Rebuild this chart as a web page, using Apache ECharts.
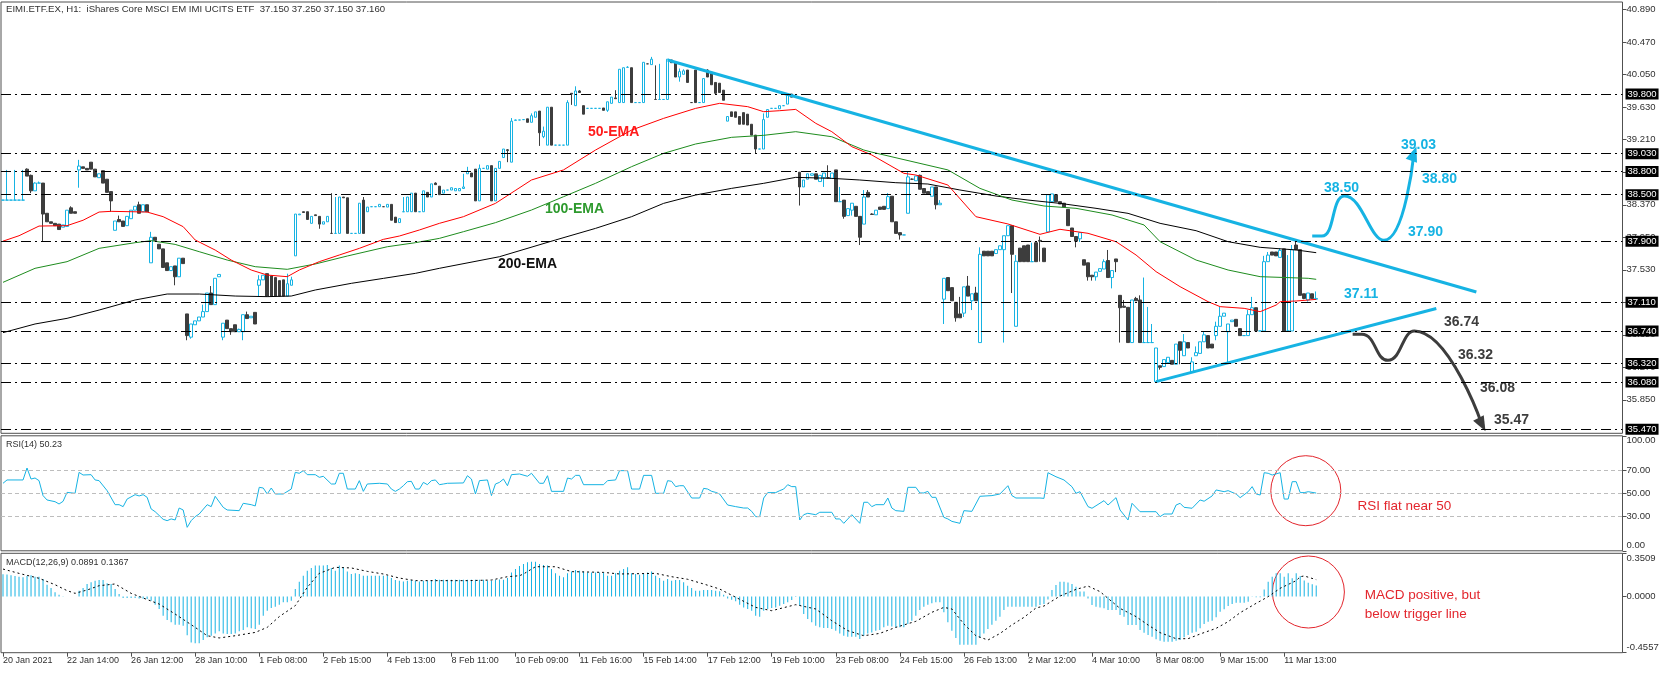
<!DOCTYPE html>
<html><head><meta charset="utf-8">
<script src="https://cdn.jsdelivr.net/npm/echarts@6/dist/echarts.min.js"></script>
<style>html,body{margin:0;padding:0;background:#fff}#c{width:1670px;height:674px}</style>
</head><body><div id="c"></div>
<script>
// ---------------- DATA ----------------
const timeLabels = ['20 Jan 2021','22 Jan 14:00','26 Jan 12:00','28 Jan 10:00','1 Feb 08:00','2 Feb 15:00','4 Feb 13:00','8 Feb 11:00','10 Feb 09:00','11 Feb 16:00','15 Feb 14:00','17 Feb 12:00','19 Feb 10:00','23 Feb 08:00','24 Feb 15:00','26 Feb 13:00','2 Mar 12:00','4 Mar 10:00','8 Mar 08:00','9 Mar 15:00','11 Mar 13:00'];
const barsPerLabel = 16;
const slotCount = 405;

// [open, close, low, high] per H1 bar
const ohlc = [
[38.43,38.43,38.43,38.43],[38.43,38.43,38.43,38.82],[38.43,38.43,38.43,38.43],[38.43,38.43,38.43,38.82],[38.43,38.43,38.43,38.43],
[38.43,38.43,38.43,38.82],[38.83,38.74,38.74,38.84],[38.75,38.55,38.52,38.76],[38.55,38.65,38.55,38.66],[38.65,38.65,38.65,38.67],
[38.65,38.25,37.89,38.65],[38.26,38.15,38.15,38.26],[38.15,38.13,38.13,38.15],[38.13,38.10,38.10,38.13],[38.12,38.05,38.05,38.12],
[38.08,38.11,38.08,38.11],[38.09,38.30,38.09,38.30],[38.33,38.26,38.26,38.35],[38.28,38.26,38.26,38.28],[38.82,38.87,38.59,38.95],
[38.86,38.84,38.84,38.86],[38.84,38.82,38.82,38.84],[38.92,38.83,38.83,38.92],[38.83,38.73,38.73,38.83],[38.72,38.77,38.72,38.77],
[38.81,38.65,38.65,38.81],[38.70,38.53,38.53,38.70],[38.54,38.42,38.28,38.54],[38.04,38.16,38.04,38.16],[38.18,38.15,38.15,38.23],
[38.16,38.09,38.09,38.16],[38.10,38.22,38.10,38.22],[38.19,38.30,38.19,38.30],[38.30,38.35,38.30,38.35],[38.37,38.26,38.26,38.41],
[38.28,38.37,38.28,38.37],[38.37,38.28,38.28,38.37],[37.62,37.95,37.62,38.02],[37.95,37.91,37.91,37.95],[37.86,37.80,37.80,37.86],
[37.80,37.56,37.56,37.80],[37.62,37.52,37.52,37.62],[37.52,37.57,37.52,37.57],[37.58,37.44,37.33,37.58],[37.44,37.68,37.44,37.68],
[37.68,37.61,37.61,37.68],[36.96,36.68,36.62,36.96],[36.66,36.83,36.64,36.83],[36.82,36.87,36.82,36.87],[36.87,36.92,36.87,36.92],
[36.92,36.99,36.92,37.08],[36.99,37.23,36.99,37.23],[37.23,37.08,37.08,37.32],[37.08,37.42,37.08,37.42],[37.44,37.47,37.44,37.47],
[36.66,36.84,36.62,36.84],[36.88,36.77,36.77,36.88],[36.77,36.73,36.69,36.77],[36.82,36.73,36.73,36.82],[36.73,36.76,36.73,36.77],
[36.73,36.95,36.62,36.95],[36.95,36.90,36.90,36.99],[36.91,36.93,36.91,36.93],[36.98,36.83,36.83,36.98],[37.33,37.40,37.18,37.46],
[37.40,37.46,37.40,37.46],[37.48,37.19,37.19,37.48],[37.45,37.19,37.19,37.45],[37.43,37.19,37.19,37.43],[37.39,37.19,37.19,37.39],
[37.40,37.19,37.19,37.40],[37.19,37.35,37.19,37.48],[37.33,37.40,37.33,37.44],[37.71,38.25,37.71,38.25],[38.24,38.25,38.24,38.25],
[38.28,38.27,38.27,38.28],[38.28,38.18,38.18,38.28],[38.13,38.22,38.13,38.22],[38.24,38.23,38.23,38.24],[38.22,38.12,38.06,38.22],
[38.12,38.15,38.12,38.15],[38.15,38.22,38.15,38.22],[38.00,38.00,38.00,38.52],[38.00,38.00,38.00,38.47],[38.00,38.47,38.00,38.47],
[38.47,38.46,38.46,38.47],[38.46,38.00,38.00,38.46],[38.00,38.00,38.00,38.00],[38.00,38.00,38.00,38.00],[38.00,38.39,38.00,38.39],
[38.43,38.00,38.00,38.47],[38.28,38.34,38.28,38.34],[38.345,38.345,38.345,38.345],[38.345,38.345,38.345,38.345],[38.345,38.375,38.345,38.375],
[38.345,38.345,38.345,38.345],[38.34,38.375,38.34,38.375],[38.375,38.17,38.17,38.375],[38.21,38.14,38.14,38.21],[38.14,38.19,38.14,38.19],
[38.28,38.28,38.28,38.47],[38.28,38.47,38.28,38.47],[38.28,38.52,38.28,38.52],[38.52,38.28,38.28,38.52],[38.28,38.28,38.28,38.28],
[38.28,38.55,38.28,38.55],[38.53,38.47,38.47,38.53],[38.47,38.64,38.47,38.64],[38.65,38.63,38.63,38.66],[38.61,38.50,38.50,38.61],
[38.52,38.56,38.52,38.56],[38.56,38.56,38.56,38.56],[38.56,38.59,38.56,38.59],[38.55,38.58,38.55,38.58],[38.55,38.58,38.55,38.58],
[38.58,38.60,38.58,38.77],[38.77,38.80,38.77,38.86],[38.78,38.73,38.73,38.78],[38.83,38.42,38.42,38.83],[38.42,38.84,38.42,38.89],
[38.84,38.84,38.84,38.84],[38.83,38.875,38.83,38.875],[38.875,38.42,38.42,38.875],[38.42,38.84,38.42,38.84],[38.84,38.93,38.84,38.93],
[38.98,39.09,38.98,39.09],[39.08,39.07,38.92,39.09],[38.92,39.45,38.92,39.49],[39.46,39.465,39.46,39.47],[39.465,39.465,39.465,39.465],
[39.47,39.47,39.47,39.47],[39.48,39.435,39.435,39.48],[39.435,39.52,39.435,39.55],[39.50,39.57,39.50,39.57],[39.58,39.30,39.13,39.58],
[39.25,39.32,39.23,39.38],[39.14,39.63,39.14,39.63],[39.63,39.14,39.14,39.63],[39.14,39.14,39.14,39.14],[39.14,39.14,39.14,39.14],
[39.14,39.14,39.14,39.14],[39.14,39.69,39.14,39.72],[39.81,39.80,39.66,39.81],[39.65,39.84,39.65,39.90],[39.84,39.82,39.82,39.85],
[39.65,39.54,39.54,39.65],[39.615,39.615,39.615,39.615],[39.615,39.615,39.615,39.615],[39.615,39.615,39.615,39.615],[39.615,39.615,39.615,39.615],
[39.62,39.59,39.59,39.62],[39.59,39.70,39.57,39.70],[39.68,39.76,39.68,39.76],[39.75,39.74,39.74,39.85],[39.69,40.12,39.69,40.12],
[39.69,40.14,39.69,40.14],[40.145,40.145,40.145,40.16],[40.14,39.69,39.69,40.14],[39.69,39.69,39.69,39.69],[39.69,39.69,39.69,39.69],
[39.69,40.21,39.69,40.21],[40.19,40.19,40.19,40.19],[40.18,40.25,40.18,40.28],[39.73,39.73,39.73,40.17],[39.73,39.73,39.73,40.19],
[39.73,39.73,39.73,39.73],[39.73,40.25,39.73,40.25],[40.24,40.205,40.205,40.24],[40.22,40.02,40.02,40.22],[40.02,40.09,39.96,40.13],
[40.055,40.10,40.055,40.12],[40.11,39.95,39.95,40.11],[39.69,39.69,39.69,39.69],[40.11,39.69,39.69,40.11],[39.69,39.69,39.69,39.69],
[39.69,40.00,39.69,40.00],[40.11,40.02,40.02,40.12],[40.08,39.92,39.92,40.08],[39.95,39.81,39.80,39.95],[39.94,39.82,39.82,39.94],
[39.85,39.72,39.72,39.85],[39.45,39.51,39.45,39.51],[39.57,39.51,39.51,39.57],[39.57,39.50,39.50,39.57],[39.51,39.41,39.41,39.51],
[39.56,39.41,39.41,39.56],[39.54,39.40,39.40,39.54],[39.41,39.27,39.27,39.41],[39.27,39.09,39.03,39.27],[39.09,39.09,39.09,39.09],
[39.09,39.47,39.09,39.55],[39.50,39.60,39.50,39.60],[39.615,39.615,39.615,39.615],[39.615,39.615,39.615,39.615],[39.61,39.65,39.61,39.65],
[39.65,39.65,39.65,39.65],[39.67,39.80,39.67,39.80],[39.80,39.76,39.76,39.80],[39.76,39.76,39.76,39.76],[38.79,38.60,38.36,38.79],
[38.60,38.69,38.60,38.69],[38.70,38.77,38.70,38.77],[38.75,38.77,38.75,38.77],[38.77,38.70,38.70,38.77],[38.67,38.75,38.67,38.75],
[38.72,38.78,38.60,38.78],[38.72,38.72,38.71,38.88],[38.71,38.78,38.71,38.78],[38.82,38.41,38.41,38.82],[38.41,38.41,38.41,38.60],
[38.43,38.22,38.19,38.43],[38.23,38.32,38.23,38.32],[38.30,38.39,38.23,38.39],[38.35,38.22,38.22,38.35],[38.22,37.95,37.85,38.22],
[38.12,38.47,38.12,38.56],[38.53,38.47,38.47,38.56],[38.25,38.245,38.24,38.26],[38.24,38.30,38.24,38.30],[38.34,38.31,38.31,38.34],
[38.35,38.31,38.31,38.35],[38.32,38.475,38.32,38.52],[38.48,38.15,38.15,38.48],[38.15,38.00,38.00,38.15],[38.01,37.98,37.92,38.01],
[37.98,37.98,37.98,37.98],[38.26,38.73,38.26,38.80],[38.70,38.70,38.69,38.71],[38.68,38.74,38.68,38.74],[38.75,38.57,38.57,38.76],
[38.58,38.52,38.52,38.58],[38.54,38.51,38.51,38.54],[38.48,38.60,38.48,38.60],[38.60,38.37,38.31,38.60],[38.37,38.39,38.37,38.43],
[37.15,37.42,36.83,37.42],[37.43,37.26,37.26,37.43],[37.30,37.13,37.13,37.30],[37.11,36.91,36.86,37.11],[36.96,36.91,36.91,37.18],
[36.97,37.31,36.92,37.31],[37.32,37.19,37.19,37.45],[37.13,37.22,37.01,37.22],[37.23,37.13,37.13,37.31],[36.59,37.73,36.59,37.82],
[37.77,37.71,37.71,37.77],[37.77,37.71,37.71,37.77],[37.77,37.71,37.71,37.77],[37.74,37.79,37.74,37.79],[37.79,37.84,37.79,37.84],
[37.79,37.97,36.59,37.97],[37.97,38.10,37.97,38.10],[38.10,37.73,37.23,38.10],[36.80,37.64,36.80,37.72],[37.81,37.635,37.635,37.81],
[37.84,37.635,37.635,37.84],[37.85,37.635,37.635,37.85],[37.635,37.635,37.635,37.88],[37.88,37.635,37.635,37.88],[37.91,37.90,37.635,37.96],
[37.81,37.635,37.635,37.81],[38.02,38.50,38.02,38.50],[38.41,38.51,38.41,38.51],[38.50,38.41,38.41,38.50],[38.41,38.38,38.38,38.41],
[38.39,38.34,38.34,38.39],[38.31,38.10,38.10,38.31],[38.07,37.96,37.96,38.07],[37.96,37.90,37.82,37.96],[37.93,38.01,37.89,38.01],
[37.66,37.59,37.59,37.66],[37.62,37.44,37.39,37.62],[37.46,37.44,37.39,37.46],[37.44,37.50,37.39,37.50],[37.51,37.545,37.51,37.545],
[37.54,37.635,37.54,37.665],[37.65,37.43,37.43,37.786],[37.43,37.52,37.29,37.52],[37.67,37.635,37.50,37.67],[37.20,37.04,36.59,37.20],
[37.06,37.045,37.045,37.14],[37.045,36.59,36.59,37.045],[36.59,37.14,36.59,37.14],[37.16,37.13,37.13,37.18],[37.14,36.59,36.59,37.20],
[36.59,36.59,36.59,37.43],[36.59,36.59,36.59,37.05],[36.59,36.59,36.59,36.83],[36.085,36.52,36.085,36.52],[36.29,36.27,36.24,36.29],
[36.28,36.37,36.28,36.37],[36.33,36.40,36.33,36.40],[36.36,36.31,36.31,36.36],[36.31,36.57,36.31,36.57],[36.60,36.49,36.31,36.60],
[36.42,36.60,36.42,36.70],[36.59,36.52,36.52,36.59],[36.21,36.34,36.21,36.40],[36.42,36.46,36.42,36.54],[36.45,36.60,36.45,36.60],
[36.60,36.69,36.60,36.73],[36.68,36.52,36.52,36.68],[36.57,36.52,36.52,36.57],[36.68,36.80,36.62,36.86],[36.80,36.93,36.80,37.05],
[36.93,36.97,36.93,36.97],[36.73,36.83,36.33,36.83],[36.86,36.88,36.86,36.88],[36.89,36.80,36.80,36.89],[36.77,36.68,36.68,36.77],
[36.68,36.68,36.68,36.68],[36.68,36.95,36.68,37.01],[36.95,37.04,36.95,37.18],[37.04,36.74,36.74,37.04],[36.74,36.74,36.74,36.74],
[36.74,37.635,36.74,37.71],[37.635,37.72,37.635,37.76],[37.76,37.72,37.72,37.76],[37.76,37.71,37.71,37.76],[37.69,37.78,37.69,37.81],
[37.80,36.74,36.74,37.80],[36.74,36.74,36.74,37.72],[36.74,37.79,36.74,37.85],[37.85,37.79,37.79,37.90],[37.79,37.20,37.20,37.79],
[37.22,37.16,37.15,37.22],[37.14,37.23,37.12,37.23],[37.22,37.16,37.16,37.22],[37.15,37.16,37.15,37.25]
];

// moving averages, read as [bar, value]
const ema50 = [[0,37.90],[4,37.97],[9,38.095],[16,38.10],[20,38.17],[24,38.276],[27,38.285],[36,38.276],[40,38.216],[45,38.087],[48,37.915],[53,37.785],[57,37.656],[62,37.527],[66,37.462],[71,37.441],[74,37.527],[79,37.635],[84,37.721],[89,37.807],[95,37.923],[99,37.966],[104,38.044],[109,38.13],[115,38.216],[123,38.388],[132,38.69],[140,38.82],[148,39.077],[157,39.335],[165,39.486],[173,39.615],[179,39.68],[186,39.637],[190,39.572],[194,39.585],[198,39.602],[203,39.422],[207,39.314],[212,39.12],[217,39.013],[225,38.776],[228,38.754],[236,38.625],[243,38.216],[251,38.122],[259,37.988],[264,38.053],[271,38.001],[278,37.893],[283,37.721],[288,37.506],[294,37.312],[301,37.118],[304,37.054],[310,37.032],[314,36.989],[318,37.075],[319,37.118],[323,37.127],[328,37.148]];
const ema100 = [[0,37.368],[8,37.549],[16,37.635],[24,37.807],[33,37.88],[37,37.906],[43,37.858],[49,37.764],[56,37.656],[63,37.57],[71,37.536],[78,37.605],[86,37.708],[96,37.828],[103,37.88],[109,37.936],[115,38.022],[123,38.139],[132,38.302],[140,38.474],[148,38.647],[157,38.862],[165,39.034],[173,39.155],[182,39.241],[190,39.267],[198,39.314],[207,39.249],[215,39.077],[217,39.05],[236,38.82],[244,38.582],[252,38.431],[260,38.354],[268,38.324],[277,38.238],[285,38.109],[289,37.893],[298,37.656],[306,37.527],[314,37.441],[326,37.42],[328,37.407]];
const ema200 = [[0,36.718],[8,36.83],[16,36.903],[24,37.01],[33,37.14],[41,37.217],[49,37.217],[58,37.191],[66,37.183],[72,37.191],[78,37.269],[87,37.355],[95,37.419],[103,37.484],[109,37.549],[124,37.699],[138,37.915],[148,38.065],[157,38.216],[165,38.388],[173,38.496],[182,38.582],[190,38.647],[198,38.724],[207,38.711],[214,38.69],[223,38.655],[231,38.638],[239,38.561],[248,38.483],[256,38.431],[264,38.388],[273,38.324],[281,38.259],[289,38.13],[298,38.035],[306,37.893],[314,37.82],[323,37.786],[328,37.751]];

// RSI(14) as [bar, value]
const rsi = [[0,58.7],[1,61.6],[5,61.6],[6,72.0],[7,62.4],[8,63.3],[9,61.0],[10,48.0],[11,44.2],[13,42.7],[14,40.7],[15,43.0],[16,50.8],[18,50.0],[19,68.2],[20,65.9],[22,66.2],[23,61.6],[24,61.0],[26,52.3],[28,40.1],[29,40.1],[30,38.4],[31,45.0],[33,48.8],[34,47.7],[35,48.8],[36,46.5],[37,36.4],[38,34.0],[40,27.4],[41,26.2],[42,27.7],[43,26.8],[44,37.2],[45,35.5],[46,20.4],[47,26.2],[48,29.7],[49,32.0],[51,40.1],[52,38.4],[53,47.4],[55,37.8],[56,35.5],[59,34.9],[60,41.3],[62,40.1],[63,39.0],[64,55.2],[65,54.6],[66,49.4],[67,54.6],[68,49.4],[70,49.4],[72,53.7],[73,68.2],[74,67.4],[75,69.7],[76,66.2],[78,66.2],[79,63.9],[80,64.8],[82,58.1],[83,58.1],[84,67.4],[85,67.4],[86,53.7],[88,53.7],[89,61.0],[90,51.7],[91,58.1],[94,58.7],[96,58.1],[97,53.7],[98,51.7],[99,53.7],[100,56.6],[101,60.1],[102,60.4],[103,53.7],[104,53.7],[105,59.5],[106,57.5],[107,61.0],[108,61.6],[109,57.5],[110,58.1],[111,58.7],[115,59.0],[116,65.3],[117,62.4],[118,49.4],[119,61.0],[121,61.6],[122,48.0],[123,58.1],[124,59.5],[125,62.4],[126,56.6],[127,66.2],[129,66.8],[131,64.8],[132,67.4],[134,58.7],[135,58.7],[136,65.3],[137,51.7],[140,51.7],[141,63.3],[142,62.4],[143,65.6],[144,65.6],[145,57.5],[150,57.5],[151,61.0],[153,61.6],[154,69.7],[156,69.7],[157,53.7],[159,53.7],[160,65.6],[162,65.6],[163,50.0],[165,50.0],[166,61.0],[167,60.4],[168,55.8],[169,56.6],[170,56.6],[172,45.9],[174,45.9],[175,54.3],[176,53.7],[177,51.7],[178,50.8],[179,49.4],[181,39.8],[183,38.4],[185,37.2],[186,37.2],[187,34.3],[188,29.7],[189,29.7],[190,45.9],[191,50.6],[193,50.6],[194,52.3],[195,53.7],[196,57.5],[197,55.8],[198,55.8],[199,26.8],[200,31.4],[201,32.6],[203,31.4],[204,33.5],[207,33.5],[208,27.7],[209,27.7],[210,23.9],[212,31.4],[214,23.9],[215,42.2],[216,42.2],[217,38.4],[218,40.1],[220,40.1],[221,45.9],[222,37.2],[223,34.9],[225,34.3],[226,55.2],[228,55.2],[229,50.3],[230,50.3],[231,51.7],[232,46.5],[233,46.5],[235,29.1],[236,27.7],[237,25.6],[239,23.9],[240,34.9],[242,34.3],[244,47.4],[247,48.0],[249,49.4],[251,56.6],[252,48.0],[253,45.9],[259,45.9],[260,45.6],[261,67.9],[263,64.4],[265,61.6],[267,55.7],[268,50.0],[269,51.4],[271,38.4],[272,37.0],[275,43.6],[276,39.8],[278,46.2],[279,35.5],[281,26.8],[282,41.3],[284,34.0],[288,34.0],[289,29.7],[290,32.0],[292,32.0],[293,39.8],[294,41.3],[295,37.8],[297,37.0],[299,44.2],[300,43.1],[302,47.7],[303,52.9],[305,51.4],[306,52.3],[308,49.4],[309,46.2],[311,51.4],[312,55.8],[313,49.4],[314,48.5],[315,67.9],[316,67.4],[317,65.9],[319,67.9],[320,45.0],[321,45.0],[322,60.1],[323,60.1],[324,50.6],[325,50.6],[326,51.4],[328,50.2]];

// MACD(12,26,9) main histogram per bar
const macdHist = [
0.180,0.178,0.172,0.167,0.161,0.156,0.167,0.172,0.161,0.161,0.142,0.096,0.069,0.034,0.015,0.002,0,0,0,0.047,
0.069,0.101,0.115,0.129,0.134,0.134,0.107,0.101,0.061,0.020,-0.012,-0.012,-0.012,-0.012,-0.015,-0.018,-0.020,-0.034,-0.066,-0.101,
-0.155,-0.190,-0.209,-0.228,-0.228,-0.236,-0.315,-0.372,-0.380,-0.380,-0.353,-0.331,-0.318,-0.299,-0.282,-0.299,-0.304,-0.304,-0.299,-0.282,
-0.272,-0.250,-0.258,-0.263,-0.228,-0.155,-0.115,-0.093,-0.082,-0.066,-0.047,-0.047,-0.034,0.061,0.121,0.169,0.210,0.232,0.251,0.251,
0.251,0.256,0.232,0.210,0.251,0.237,0.204,0.183,0.188,0.183,0.169,0.169,0.169,0.169,0.169,0.169,0.169,0.150,0.134,0.129,
0.123,0.129,0.134,0.129,0.123,0.129,0.129,0.134,0.142,0.137,0.137,0.137,0.137,0.137,0.137,0.137,0.137,0.137,0.137,0.137,
0.137,0.129,0.129,0.137,0.139,0.137,0.150,0.196,0.224,0.248,0.264,0.278,0.283,0.283,0.264,0.256,0.251,0.224,0.188,0.169,
0.156,0.188,0.204,0.215,0.210,0.204,0.196,0.196,0.196,0.196,0.196,0.169,0.169,0.188,0.210,0.224,0.237,0.188,0.183,0.177,
0.188,0.196,0.204,0.169,0.150,0.129,0.142,0.129,0.134,0.134,0.115,0.088,0.069,0.047,0.047,0.053,0.053,0.053,0.047,0.042,
0.015,-0.015,-0.026,-0.039,-0.066,-0.088,-0.101,-0.115,-0.155,-0.163,-0.115,-0.101,-0.093,-0.088,-0.074,-0.061,-0.047,-0.028,0.004,-0.074,
-0.142,-0.182,-0.209,-0.236,-0.250,-0.255,-0.255,-0.263,-0.277,-0.299,-0.318,-0.326,-0.326,-0.326,-0.345,-0.318,-0.299,-0.291,-0.277,-0.272,
-0.250,-0.236,-0.244,-0.250,-0.250,-0.250,-0.223,-0.196,-0.155,-0.109,-0.082,-0.066,-0.055,-0.047,-0.047,-0.128,-0.209,-0.277,-0.336,-0.391,
-0.391,-0.391,-0.391,-0.391,-0.336,-0.299,-0.263,-0.228,-0.196,-0.163,-0.110,-0.082,-0.082,-0.082,-0.082,-0.082,-0.082,-0.082,-0.082,-0.069,
-0.061,-0.023,0.053,0.094,0.121,0.121,0.113,0.102,0.080,0.040,0.040,-0.015,-0.069,-0.082,-0.088,-0.096,-0.109,-0.109,-0.109,-0.150,
-0.163,-0.231,-0.231,-0.231,-0.272,-0.293,-0.312,-0.326,-0.347,-0.358,-0.366,-0.366,-0.366,-0.358,-0.353,-0.331,-0.312,-0.293,-0.285,-0.258,
-0.223,-0.204,-0.196,-0.169,-0.123,-0.104,-0.077,-0.061,-0.050,-0.050,-0.050,-0.042,-0.001,-0.006,-0.006,0.058,0.121,0.161,0.188,0.188,
0.161,0.188,0.148,0.188,0.167,0.130,0.112,0.100,0.089
];
// MACD signal line as [bar, value]
const macdSignal = [[0,0.223],[4,0.188],[9,0.148],[13,0.096],[16,0.048],[18,0.026],[21,0.053],[24,0.088],[28,0.102],[32,0.026],[35,-0.012],[39,-0.061],[43,-0.142],[48,-0.25],[51,-0.318],[54,-0.336],[58,-0.318],[63,-0.291],[66,-0.25],[69,-0.163],[73,-0.074],[76,0.075],[79,0.188],[83,0.237],[87,0.232],[91,0.204],[95,0.183],[99,0.15],[103,0.129],[108,0.129],[116,0.129],[122,0.134],[126,0.161],[129,0.169],[130,0.183],[133,0.242],[138,0.242],[142,0.202],[150,0.196],[154,0.183],[163,0.188],[167,0.161],[171,0.14],[175,0.102],[179,0.061],[183,-0.006],[188,-0.088],[192,-0.115],[196,-0.082],[198,-0.066],[203,-0.101],[207,-0.196],[211,-0.277],[215,-0.318],[219,-0.299],[223,-0.25],[228,-0.201],[232,-0.128],[235,-0.088],[237,-0.101],[240,-0.223],[243,-0.318],[246,-0.353],[249,-0.3],[252,-0.23],[255,-0.169],[258,-0.093],[260,-0.077],[264,0.004],[268,0.058],[271,0.085],[274,0.040],[276,-0.015],[279,-0.096],[283,-0.163],[286,-0.231],[289,-0.293],[293,-0.342],[296,-0.342],[299,-0.304],[303,-0.258],[306,-0.204],[309,-0.131],[313,-0.055],[316,-0.001],[319,0.067],[323,0.129],[324,0.161],[325,0.167],[328,0.137]];

// levels and ticks
const levels = [39.80, 39.03, 38.80, 38.50, 37.90, 37.11, 36.74, 36.32, 36.08, 35.47];
const priceTicks = [35.85, 36.27, 36.69, 37.11, 37.53, 37.95, 38.37, 38.79, 39.21, 39.63, 40.05, 40.47, 40.89];
const priceMin = 35.418, priceMax = 40.989;
const rsiTicks = [0, 30, 50, 70, 100];
const rsiLevels = [70, 50, 30];
const macdTicks = [-0.4557, 0, 0.3509];
// drawn analysis: trendlines and scenario paths as [bar, price]
const resistanceLine = [[166, 40.24], [368, 37.243]];
const supportLine = [[288, 36.085], [358, 37.03]];
const bullPath = [[327, 37.965], [329.4, 37.965], [335.1, 38.483], [344.9, 37.91], [352.4, 39.03]];
const bearPath = [[337.1, 36.696], [339.4, 36.696], [345.9, 36.36], [352.5, 36.74], [369.4, 35.53]];
const bullLabels = ['38.50', '39.03', '38.80', '37.90', '37.11'];
const bearLabels = ['36.74', '36.32', '36.08', '35.47'];

// ---------------- CHART ----------------
const FONT = '"Liberation Sans", Arial, sans-serif';
const BLUE = '#16b3e3', DARK = '#3d3d3d', RED = '#e3262d';
const slots = Array.from({length: slotCount}, (_, i) => String(i));
const isLabelSlot = i => i % barsPerLabel === 0 && i / barsPerLabel < timeLabels.length;
const valX = gi => ({type: 'value', gridIndex: gi, min: -0.5, max: slotCount - 0.5, show: false, axisLine: {onZero: false}});
const gridBase = {left: 1, width: 1621.5, show: true, borderColor: '#505050', borderWidth: 1, backgroundColor: 'transparent'};
const axisLabelBase = {fontSize: 9.5, color: '#303030', fontFamily: FONT, margin: 4};

function arrowEnd(path, rot) {
  return path.map((p, i) => i === path.length - 1
    ? {value: p, symbol: 'triangle', symbolSize: [12, 15], symbolRotate: rot}
    : {value: p, symbol: 'none'});
}

const option = {
  animation: false,
  backgroundColor: '#fff',
  grid: [
    Object.assign({top: 2, height: 431.3}, gridBase),
    Object.assign({top: 435.8, height: 115}, gridBase),
    Object.assign({top: 553.3, height: 99.4}, gridBase)
  ],
  xAxis: [
    {type: 'category', gridIndex: 0, data: slots, show: false, axisLine: {onZero: false}},
    valX(0),
    valX(1),
    {type: 'category', gridIndex: 2, data: slots, boundaryGap: true,
     axisLine: {show: false, onZero: false},
     axisTick: {show: true, alignWithLabel: true, interval: isLabelSlot, length: 4, lineStyle: {color: '#505050'}},
     axisLabel: {interval: isLabelSlot, formatter: (v, i) => timeLabels[Number(v) / barsPerLabel] || '', align: 'left',
                 fontSize: 9, color: '#303030', fontFamily: FONT, margin: 3},
     splitLine: {show: false}},
    valX(2)
  ],
  yAxis: [
    {type: 'value', gridIndex: 0, position: 'right', min: priceMin, max: priceMax,
     splitLine: {show: false}, axisLine: {show: false, onZero: false},
     axisTick: {show: true, length: 4, customValues: priceTicks, lineStyle: {color: '#505050'}},
     axisLabel: Object.assign({customValues: priceTicks, formatter: v => v.toFixed(3)}, axisLabelBase)},
    {type: 'value', gridIndex: 1, position: 'right', min: 0, max: 100,
     splitLine: {show: false}, axisLine: {show: false, onZero: false},
     axisTick: {show: true, length: 4, customValues: rsiTicks, lineStyle: {color: '#505050'}},
     axisLabel: Object.assign({customValues: rsiTicks, formatter: v => v.toFixed(2),
       verticalAlignMinLabel: 'bottom', verticalAlignMaxLabel: 'top'}, axisLabelBase)},
    {type: 'value', gridIndex: 2, position: 'right', min: macdTicks[0], max: macdTicks[2],
     splitLine: {show: false}, axisLine: {show: false, onZero: false},
     axisTick: {show: true, length: 4, customValues: macdTicks, lineStyle: {color: '#505050'}},
     axisLabel: Object.assign({customValues: macdTicks, formatter: v => v.toFixed(4),
       verticalAlignMinLabel: 'bottom', verticalAlignMaxLabel: 'top'}, axisLabelBase)}
  ],
  series: [
    {type: 'candlestick', xAxisIndex: 0, yAxisIndex: 0, data: ohlc, barWidth: 3,
     itemStyle: {color: '#ffffff', color0: DARK, borderColor: BLUE, borderColor0: DARK, borderWidth: 1},
     markLine: {silent: true, symbol: 'none', animation: false,
       lineStyle: {color: '#000', width: 1, type: [10, 4, 2, 4]},
       label: {show: true, position: 'end', distance: 3, formatter: p => p.value.toFixed(3),
               backgroundColor: '#000', color: '#fff', fontSize: 9.5, fontFamily: FONT, padding: [1, 2, 0, 2]},
       data: levels.map(v => ({yAxis: v}))}},
    {type: 'line', name: '200-EMA', xAxisIndex: 1, yAxisIndex: 0, data: ema200, symbol: 'none', lineStyle: {color: '#000', width: 1}},
    {type: 'line', name: '100-EMA', xAxisIndex: 1, yAxisIndex: 0, data: ema100, symbol: 'none', lineStyle: {color: '#1e8c1e', width: 1}},
    {type: 'line', name: '50-EMA', xAxisIndex: 1, yAxisIndex: 0, data: ema50, symbol: 'none', lineStyle: {color: '#ff0000', width: 1}},
    {type: 'line', xAxisIndex: 1, yAxisIndex: 0, data: resistanceLine, symbol: 'none', lineStyle: {color: BLUE, width: 3}},
    {type: 'line', xAxisIndex: 1, yAxisIndex: 0, data: supportLine, symbol: 'none', lineStyle: {color: BLUE, width: 3}},
    {type: 'line', xAxisIndex: 1, yAxisIndex: 0, data: arrowEnd(bullPath, -20), smooth: 0.5, showSymbol: true,
     itemStyle: {color: BLUE}, lineStyle: {color: BLUE, width: 3}},
    {type: 'line', xAxisIndex: 1, yAxisIndex: 0, data: arrowEnd(bearPath, -152), smooth: 0.5, showSymbol: true,
     itemStyle: {color: DARK}, lineStyle: {color: DARK, width: 3}},
    {type: 'line', xAxisIndex: 2, yAxisIndex: 1, data: rsi, symbol: 'none', lineStyle: {color: BLUE, width: 1},
     markLine: {silent: true, symbol: 'none', label: {show: false},
       lineStyle: {color: '#bdbdbd', width: 1, type: [4, 3]}, data: rsiLevels.map(v => ({yAxis: v}))}},
    {type: 'bar', xAxisIndex: 3, yAxisIndex: 2, data: macdHist, barWidth: 1, itemStyle: {color: BLUE}},
    {type: 'line', xAxisIndex: 4, yAxisIndex: 2, data: macdSignal, symbol: 'none', lineStyle: {color: '#000', width: 1, type: [2, 3]}}
  ],
  graphic: [
    {type: 'text', x: 6, y: 9.5, style: {text: 'EIMI.ETF.EX, H1:  iShares Core MSCI EM IMI UCITS ETF  37.150 37.250 37.150 37.160', fill: '#303030', font: '9.6px ' + FONT, verticalAlign: 'middle'}},
    {type: 'text', x: 6, y: 444.7, style: {text: 'RSI(14) 50.23', fill: '#303030', font: '9px ' + FONT, verticalAlign: 'middle'}},
    {type: 'text', x: 6, y: 562.3, style: {text: 'MACD(12,26,9) 0.0891 0.1367', fill: '#303030', font: '9px ' + FONT, verticalAlign: 'middle'}},
    {type: 'text', x: 588, y: 131.7, style: {text: '50-EMA', fill: '#ff1c1c', font: 'bold 14px ' + FONT, verticalAlign: 'middle'}},
    {type: 'text', x: 545, y: 209.5, style: {text: '100-EMA', fill: '#2e9a2e', font: 'bold 14px ' + FONT, verticalAlign: 'middle'}},
    {type: 'text', x: 498, y: 264, style: {text: '200-EMA', fill: '#111', font: 'bold 14px ' + FONT, verticalAlign: 'middle'}},
    {type: 'text', x: 1324, y: 188, style: {text: bullLabels[0], fill: BLUE, font: 'bold 14px ' + FONT, verticalAlign: 'middle'}},
    {type: 'text', x: 1401, y: 145, style: {text: bullLabels[1], fill: BLUE, font: 'bold 14px ' + FONT, verticalAlign: 'middle'}},
    {type: 'text', x: 1422, y: 179, style: {text: bullLabels[2], fill: BLUE, font: 'bold 14px ' + FONT, verticalAlign: 'middle'}},
    {type: 'text', x: 1408, y: 232, style: {text: bullLabels[3], fill: BLUE, font: 'bold 14px ' + FONT, verticalAlign: 'middle'}},
    {type: 'text', x: 1344, y: 294, style: {text: bullLabels[4], fill: BLUE, font: 'bold 14px ' + FONT, verticalAlign: 'middle'}},
    {type: 'text', x: 1444, y: 322, style: {text: bearLabels[0], fill: DARK, font: 'bold 14px ' + FONT, verticalAlign: 'middle'}},
    {type: 'text', x: 1458, y: 355, style: {text: bearLabels[1], fill: DARK, font: 'bold 14px ' + FONT, verticalAlign: 'middle'}},
    {type: 'text', x: 1480, y: 388, style: {text: bearLabels[2], fill: DARK, font: 'bold 14px ' + FONT, verticalAlign: 'middle'}},
    {type: 'text', x: 1494, y: 420, style: {text: bearLabels[3], fill: DARK, font: 'bold 14px ' + FONT, verticalAlign: 'middle'}},
    {type: 'circle', shape: {cx: 1305.8, cy: 490.7, r: 35}, style: {fill: 'none', stroke: RED, lineWidth: 1}},
    {type: 'circle', shape: {cx: 1308.4, cy: 592, r: 36}, style: {fill: 'none', stroke: RED, lineWidth: 1}},
    {type: 'text', x: 1357.5, y: 506.7, style: {text: 'RSI flat near 50', fill: RED, font: '13.5px ' + FONT, verticalAlign: 'middle'}},
    {type: 'text', x: 1364.7, y: 595.3, style: {text: 'MACD positive, but', fill: RED, font: '13.5px ' + FONT, verticalAlign: 'middle'}},
    {type: 'text', x: 1364.7, y: 614.3, style: {text: 'below trigger line', fill: RED, font: '13.5px ' + FONT, verticalAlign: 'middle'}}
  ]
};
const chart = echarts.init(document.getElementById('c'), null, {renderer: 'canvas', width: 1670, height: 674});
chart.setOption(option);
</script>
</body></html>
